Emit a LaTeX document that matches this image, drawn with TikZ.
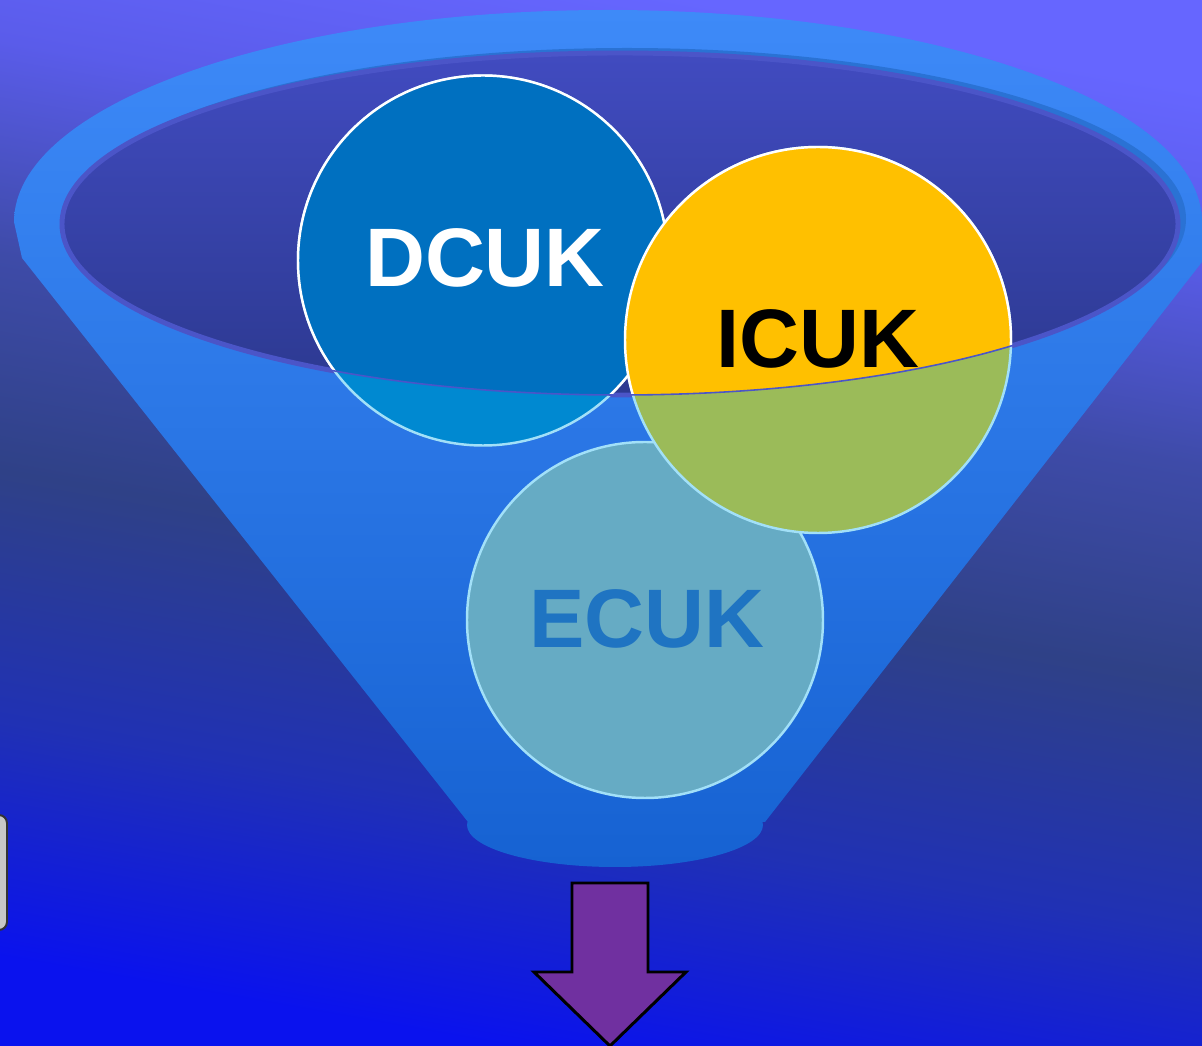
\documentclass[tikz,border=0pt]{standalone}
\usepackage{fontspec}
\setmainfont{Liberation Sans}
\usetikzlibrary{positioning}

\definecolor{bgtop}{HTML}{6666FF}
\definecolor{bghigh}{HTML}{5A5CEA}
\definecolor{bgmid}{HTML}{3E4BA8}
\definecolor{bgdark}{HTML}{2F4187}
\definecolor{bglow}{HTML}{2031B4}
\definecolor{bgbot}{HTML}{0A12EE}
\definecolor{rimtop}{HTML}{3E8AF8}
\definecolor{conemid}{HTML}{2776CC}
\definecolor{conebot}{HTML}{1662D2}
\definecolor{rimshadow}{HTML}{2A72D4}
\definecolor{innertop}{HTML}{414BC0}
\definecolor{innerbot}{HTML}{2C3990}
\definecolor{innerline}{HTML}{4B55C8}
\definecolor{dcukblue}{HTML}{0070C0}
\definecolor{dcuklow}{HTML}{0089D1}
\definecolor{icukgold}{HTML}{FFC000}
\definecolor{icuklow}{HTML}{9BBB59}
\definecolor{ecuklow}{HTML}{66ABC4}
\definecolor{ecuktext}{HTML}{1F74C2}
\definecolor{lowline}{HTML}{A2E0F8}
\definecolor{arrowpurple}{HTML}{7030A0}

\pgfdeclareverticalshading{bgshade}{100bp}{color(0bp)=(bgbot); color(25bp)=(bgbot);
  color(36bp)=(bglow); color(47.5bp)=(bgdark); color(57.5bp)=(bgmid);
  color(67.5bp)=(bghigh); color(75bp)=(bgtop); color(100bp)=(bgtop)}

\begin{document}
\begin{tikzpicture}[x=0.01cm, y=-0.01cm,
    cuktext/.style={font=\bfseries\fontsize{23.6}{28}\selectfont, inner sep=0pt, anchor=base},
    toppart/.style={draw=white, line width=0.7pt},
    lowpart/.style={draw=lowline, line width=0.7pt}]
  \useasboundingbox (0,0) rectangle (1202,1046);
  \shade[shading=bgshade, shading angle=-10] (0,0) rectangle (1202,1046);

  % funnel
  \shade[top color=rimtop, middle color=conemid, bottom color=conebot]
    (14,222) arc [start angle=180, end angle=360, x radius=594, y radius=212]
    -- (1202,262) -- (765,822) -- (468,822) -- (22,258) -- cycle
    (615,825) ellipse [x radius=148, y radius=42];
  \fill[rimshadow] (627,219) ellipse [x radius=559, y radius=171];
  \shade[top color=innertop, bottom color=innerbot, draw=innerline, line width=1.4pt]
    (620,224) ellipse [x radius=558, y radius=171];

  \coordinate (dcuk) at (483,260.5);
  \coordinate (icuk) at (818,340);
  \coordinate (ecuk) at (645,620);

  % circles seen through the cone
  \fill[dcuklow, lowpart] (dcuk) circle [radius=185];
  \fill[ecuklow, lowpart] (ecuk) circle [radius=178];
  \fill[icuklow, lowpart] (icuk) circle [radius=193];
  % circles inside the mouth
  \begin{scope}
    \clip (620,224) ellipse [x radius=558, y radius=171];
    \fill[dcukblue, toppart] (dcuk) circle [radius=185];
    \fill[icukgold, toppart] (icuk) circle [radius=193];
  \end{scope}
  \draw[innerline, line width=0.45pt] (620,224) ellipse [x radius=558, y radius=171];

  \node[cuktext, white] (dlabel) at (485,287) {DCUK};
  \node[cuktext, black] (ilabel) at (818,368) {ICUK};
  \node[cuktext, ecuktext] (elabel) at (647,648) {ECUK};

  % arrow under the funnel
  \draw[fill=arrowpurple, line width=0.85pt, line join=miter]
    (572,883) -- (648,883) -- (648,972) -- (686,972) -- (610,1046)
    -- (534,972) -- (572,972) -- cycle;

  \draw[fill=black!22, draw=black!80, line width=0.55pt, rounded corners=2.3pt]
    (-40,815) rectangle (7,930);
\end{tikzpicture}
\end{document}
